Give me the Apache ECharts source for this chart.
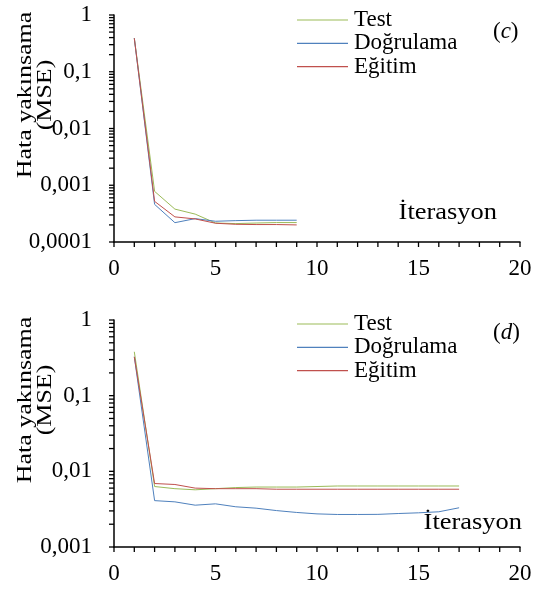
<!DOCTYPE html>
<html>
<head>
<meta charset="utf-8">
<script src="https://cdn.jsdelivr.net/npm/echarts@6/dist/echarts.min.js"></script>
<style>html,body{margin:0;padding:0;background:#fff}#c{width:543px;height:590px}</style>
</head>
<body>
<div id="c"></div>
<script>
// ---- data ----
const seriesNames = ['Test', 'Doğrulama', 'Eğitim'];
const iterC = [1, 2, 3, 4, 5, 6, 7, 8, 9];
const testC = [0.39, 0.00078, 0.00038, 0.00031, 0.000216, 0.000211, 0.000216, 0.00022, 0.00022];
const valC = [0.39, 0.00046, 0.000219, 0.000258, 0.000232, 0.000238, 0.000242, 0.000242, 0.000242];
const trainC = [0.39, 0.00052, 0.000277, 0.000255, 0.000214, 0.000205, 0.000203, 0.000203, 0.0002];

const iterD = [1, 2, 3, 4, 5, 6, 7, 8, 9, 10, 11, 12, 13, 14, 15, 16, 17];
const testD = [0.38, 0.0063, 0.0059, 0.0057, 0.0059, 0.0061, 0.0062, 0.0062, 0.0062, 0.0063, 0.0064, 0.0064, 0.0064, 0.0064, 0.0064, 0.0064, 0.0064];
const valD = [0.326, 0.0041, 0.00395, 0.00357, 0.00372, 0.0034, 0.00326, 0.00303, 0.00286, 0.00274, 0.00269, 0.00269, 0.0027, 0.00277, 0.00283, 0.00292, 0.0033];
const trainD = [0.326, 0.0069, 0.0067, 0.006, 0.0059, 0.0059, 0.0059, 0.0058, 0.0058, 0.0058, 0.0058, 0.0058, 0.0058, 0.0058, 0.0058, 0.0058, 0.0058];

const xTickLabels = [0, 5, 10, 15, 20];
const xTickValues = [0, 1, 2, 3, 4, 5, 6, 7, 8, 9, 10, 11, 12, 13, 14, 15, 16, 17, 18, 19, 20];
const yTickLabelsC = ['0,0001', '0,001', '0,01', '0,1', '1'];
const yTickLabelsD = ['0,001', '0,01', '0,1', '1'];
const yTitle = 'Hata yakınsama\n(MSE)';
const xTitle = 'İterasyon';
const panelC = 'c', panelD = 'd';

// ---- helpers ----
const FONT = '"Liberation Serif", "Times New Roman", serif';
const colors = ['#9bbb59', '#4f81bd', '#c0504d'];
// logarithmic tick positions k*10^e
function logTicks(minExp, maxExp) {
  const out = [];
  for (let e = minExp; e < maxExp; e++) for (let k = 1; k < 10; k++) out.push(+(k * Math.pow(10, e)).toPrecision(6));
  out.push(Math.pow(10, maxExp));
  return out;
}
function fmtY(v) {
  return (+Number(v).toPrecision(6)).toString().replace('.', ',');
}
function xAxis(gi) {
  return {
    gridIndex: gi, type: 'value', min: 0, max: 20, interval: 1,
    splitLine: { show: false },
    axisLine: { show: true, onZero: false, lineStyle: { color: '#000', width: 1.5 } },
    axisTick: { show: false },
    axisLabel: {
      margin: 15, color: '#000', fontFamily: FONT, fontSize: 23,
      formatter: v => (xTickLabels.indexOf(v) >= 0 ? String(v) : '')
    }
  };
}
function yAxis(gi, minExp) {
  return {
    gridIndex: gi, type: 'log', logBase: 10, min: Math.pow(10, minExp), max: 1,
    position: 'left',
    splitLine: { show: false },
    axisLine: { show: true, lineStyle: { color: '#000', width: 1.5 } },
    axisTick: { show: false },
    axisLabel: { margin: 22, color: '#000', fontFamily: FONT, fontSize: 23, formatter: fmtY }
  };
}
// tick marks drawn through the axes' own scales (kind 0 = x tick, 1 = y tick)
function tickSeries(gi, minExp) {
  const ymin = Math.pow(10, minExp);
  const data = xTickValues.map(x => [x, ymin, 0]).concat(logTicks(minExp, 0).map(y => [0, y, 1]));
  return {
    type: 'custom', name: 'ticks' + gi, xAxisIndex: gi, yAxisIndex: gi, silent: true, clip: false, z: 5,
    animation: false,
    data,
    renderItem: function (params, api) {
      const p = api.coord([api.value(0), api.value(1)]);
      const isY = api.value(2) === 1;
      return {
        type: 'line',
        shape: isY ? { x1: p[0] - 5, y1: p[1], x2: p[0], y2: p[1] } : { x1: p[0], y1: p[1], x2: p[0], y2: p[1] + 5 },
        style: { stroke: '#000', lineWidth: 1.3 }
      };
    }
  };
}
function line(name, idx, gi, xs, ys) {
  return {
    name, type: 'line', xAxisIndex: gi, yAxisIndex: gi,
    data: xs.map((x, i) => [x, ys[i]]),
    symbol: 'none', showSymbol: false,
    lineStyle: { color: colors[idx], width: 1 },
    itemStyle: { color: colors[idx] },
    animation: false
  };
}
function legend(top) {
  return {
    data: seriesNames, orient: 'vertical', left: 297, top,
    icon: 'rect', itemWidth: 51, itemHeight: 1.2, itemGap: 0.3, padding: 0,
    textStyle: { fontFamily: FONT, fontSize: 23, lineHeight: 23, color: '#000', padding: [0, 0, 0, 1] }
  };
}
function panelLabel(letter, y) {
  return {
    type: 'text', x: 493, y,
    style: {
      text: '{n|(}{i|' + letter + '}{n|)}',
      textVerticalAlign: 'middle',
      rich: {
        n: { fontFamily: FONT, fontSize: 23, fontWeight: 'normal', fill: '#000' },
        i: { fontFamily: FONT, fontSize: 23, fontWeight: 'normal', fontStyle: 'italic', fill: '#000' }
      }
    }
  };
}
function yTitleText(y) {
  return {
    type: 'text', x: 35, y, rotation: Math.PI / 2, scaleX: 1.18,
    style: {
      text: yTitle, fontFamily: FONT, fontSize: 22, fontWeight: 'normal', lineHeight: 20, fill: '#000',
      textAlign: 'center', textVerticalAlign: 'middle'
    }
  };
}
function xTitleText(x, y) {
  return {
    type: 'text', x, y, scaleX: 1.15,
    style: {
      text: xTitle, fontFamily: FONT, fontSize: 23, fontWeight: 'normal', fill: '#000',
      textAlign: 'right', textVerticalAlign: 'middle'
    }
  };
}

const chart = echarts.init(document.getElementById('c'));
chart.setOption({
  animation: false,
  backgroundColor: '#fff',
  grid: [
    { left: 114, right: 23, top: 15, height: 227 },
    { left: 114, right: 23, top: 320, height: 227 }
  ],
  xAxis: [xAxis(0), xAxis(1)],
  yAxis: [yAxis(0, -4), yAxis(1, -3)],
  legend: [legend(8.5), legend(312.5)],
  series: [
    line(seriesNames[0], 0, 0, iterC, testC),
    line(seriesNames[1], 1, 0, iterC, valC),
    line(seriesNames[2], 2, 0, iterC, trainC),
    line(seriesNames[0], 0, 1, iterD, testD),
    line(seriesNames[1], 1, 1, iterD, valD),
    line(seriesNames[2], 2, 1, iterD, trainD),
    tickSeries(0, -4),
    tickSeries(1, -3)
  ],
  graphic: [
    panelLabel(panelC, 32),
    panelLabel(panelD, 333),
    yTitleText(95),
    yTitleText(400),
    xTitleText(497, 213),
    xTitleText(522, 523)
  ]
});
</script>
</body>
</html>
